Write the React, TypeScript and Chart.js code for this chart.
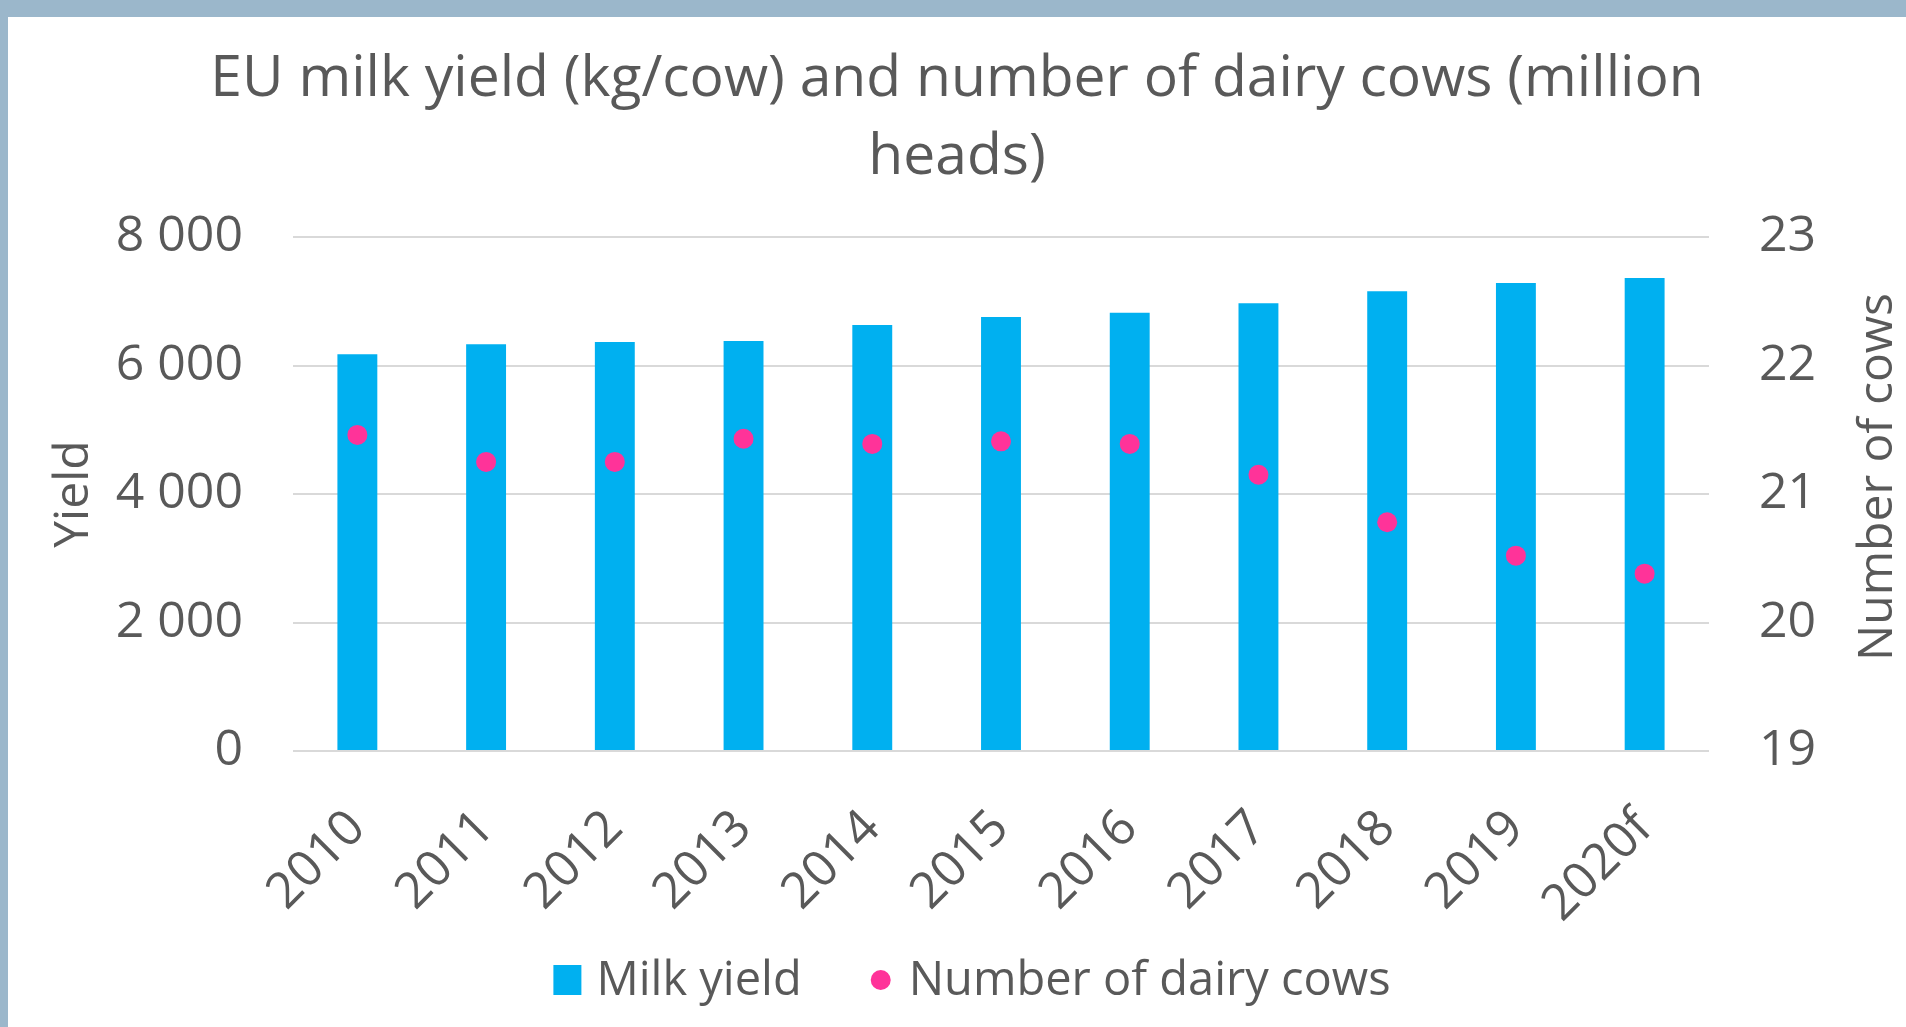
import React, { useEffect, useRef } from "react";
import { Chart, registerables } from "chart.js";

Chart.register(...registerables);

const categories = ["2010", "2011", "2012", "2013", "2014", "2015", "2016", "2017", "2018", "2019", "2020f"];
const milkYield = [6175, 6330, 6366, 6381, 6630, 6755, 6822, 6968, 7158, 7286, 7362];
const dairyCows = [21.46, 21.25, 21.25, 21.43, 21.39, 21.41, 21.39, 21.15, 20.78, 20.52, 20.38];

const titleLines = ["EU milk yield (kg/cow) and number of dairy cows (million", "heads)"];
const seriesLabels = ["Milk yield", "Number of dairy cows"];
const leftAxisTitle = "Yield";
const rightAxisTitle = "Number of cows";

const FONT = "'Open Sans', sans-serif";
const TEXT = "#595959";
const BAR = "#00B0F0";
const DOT = "#FF3399";
const GRID = "#D9D9D9";

const fmt = (v: number) => String(v).replace(/\B(?=(\d{3})+(?!\d))/g, " ");

const rightTitlePlugin = {
  id: "rightTitle",
  afterDraw(chart: any) {
    const s = chart.scales.y1;
    const ctx = chart.ctx;
    ctx.save();
    ctx.font = `48px ${FONT}`;
    ctx.fillStyle = TEXT;
    ctx.textAlign = "center";
    ctx.textBaseline = "middle";
    ctx.translate(s.right - 28, (s.top + s.bottom) / 2 - 17);
    ctx.rotate(-Math.PI / 2);
    ctx.fillText(rightAxisTitle, 0, 0);
    ctx.restore();
  },
};

const legendPlugin = {
  id: "customLegend",
  afterDraw(chart: any) {
    const ctx = chart.ctx;
    ctx.save();
    ctx.font = `47px ${FONT}`;
    ctx.textBaseline = "middle";
    ctx.textAlign = "left";
    const ds = chart.data.datasets;
    const w1 = ctx.measureText(ds[0].label).width;
    const w2 = ctx.measureText(ds[1].label).width;
    const sq = 28, g1 = 15, gap = 69, dotD = 20, g2 = 18;
    const total = sq + g1 + w1 + gap + dotD + g2 + w2;
    const cy = chart.height - 47;
    let x = chart.width / 2 + 15 - total / 2;
    ctx.fillStyle = ds[0].backgroundColor;
    ctx.fillRect(x, cy - 15, sq, 30);
    x += sq + g1;
    ctx.fillStyle = TEXT;
    ctx.fillText(ds[0].label, x, cy + 2);
    x += w1 + gap;
    ctx.fillStyle = ds[1].backgroundColor;
    ctx.beginPath();
    ctx.arc(x + dotD / 2, cy, dotD / 2, 0, Math.PI * 2);
    ctx.fill();
    x += dotD + g2;
    ctx.fillStyle = TEXT;
    ctx.fillText(ds[1].label, x, cy + 2);
    ctx.restore();
  },
};

export default function App() {
  const ref = useRef<HTMLCanvasElement>(null);
  useEffect(() => {
    if (!ref.current) return;
    const chart = new Chart(ref.current, {
      type: "bar",
      data: {
        labels: categories,
        datasets: [
          {
            type: "bar",
            label: seriesLabels[0],
            data: milkYield,
            backgroundColor: BAR,
            yAxisID: "y",
            categoryPercentage: 1,
            barPercentage: 0.31,
            order: 1,
          },
          {
            type: "line",
            label: seriesLabels[1],
            data: dairyCows,
            backgroundColor: DOT,
            borderColor: DOT,
            showLine: false,
            pointRadius: 10,
            pointBorderWidth: 0,
            pointHoverRadius: 10,
            yAxisID: "y1",
            order: 0,
          },
        ],
      },
      options: {
        responsive: false,
        animation: false,
        devicePixelRatio: 1,
        layout: { padding: { left: 0, right: 0, top: 0, bottom: 94 } },
        plugins: {
          legend: { display: false },
          tooltip: { enabled: false },
          title: {
            display: true,
            text: titleLines,
            color: TEXT,
            font: { family: FONT, size: 57, weight: "normal", lineHeight: 1.36 },
            padding: { top: 24, bottom: 41 },
          },
        },
        scales: {
          x: {
            offset: true,
            grid: { display: false },
            border: { display: false },
            ticks: {
              color: TEXT,
              font: { family: FONT, size: 50 },
              maxRotation: 45,
              minRotation: 45,
              autoSkip: false,
              padding: 40,
            },
            afterFit: (s: any) => {
              s.height = 182;
            },
          },
          y: {
            position: "left",
            min: 0,
            max: 8000,
            border: { display: false },
            grid: { color: GRID, lineWidth: 2, drawTicks: false },
            ticks: {
              stepSize: 2000,
              color: TEXT,
              font: { family: FONT, size: 50 },
              padding: 50,
              callback: (v: any) => fmt(Number(v)),
            },
            title: {
              display: true,
              text: leftAxisTitle,
              color: TEXT,
              font: { family: FONT, size: 48 },
              padding: { top: 38, bottom: 0 },
            },
            afterFit: (s: any) => {
              s.width = 285;
            },
          },
          y1: {
            position: "right",
            min: 19,
            max: 23,
            border: { display: false },
            grid: { display: false, drawOnChartArea: false, drawTicks: false },
            ticks: {
              stepSize: 1,
              color: TEXT,
              font: { family: FONT, size: 50 },
              padding: 50,
            },
            afterFit: (s: any) => {
              s.width = 197;
            },
          },
        },
      },
      plugins: [rightTitlePlugin, legendPlugin],
    } as any);
    return () => chart.destroy();
  }, []);

  return (
    <div
      style={{
        position: "fixed",
        left: 0,
        top: 0,
        width: 1906,
        height: 1027,
        background: "#9BB7CB",
        overflow: "hidden",
      }}
    >
      <div
        style={{
          position: "absolute",
          left: 8,
          top: 17,
          width: 1898,
          height: 1010,
          background: "#FFFFFF",
        }}
      >
        <canvas ref={ref} width={1898} height={1010} style={{ display: "block" }} />
      </div>
    </div>
  );
}
